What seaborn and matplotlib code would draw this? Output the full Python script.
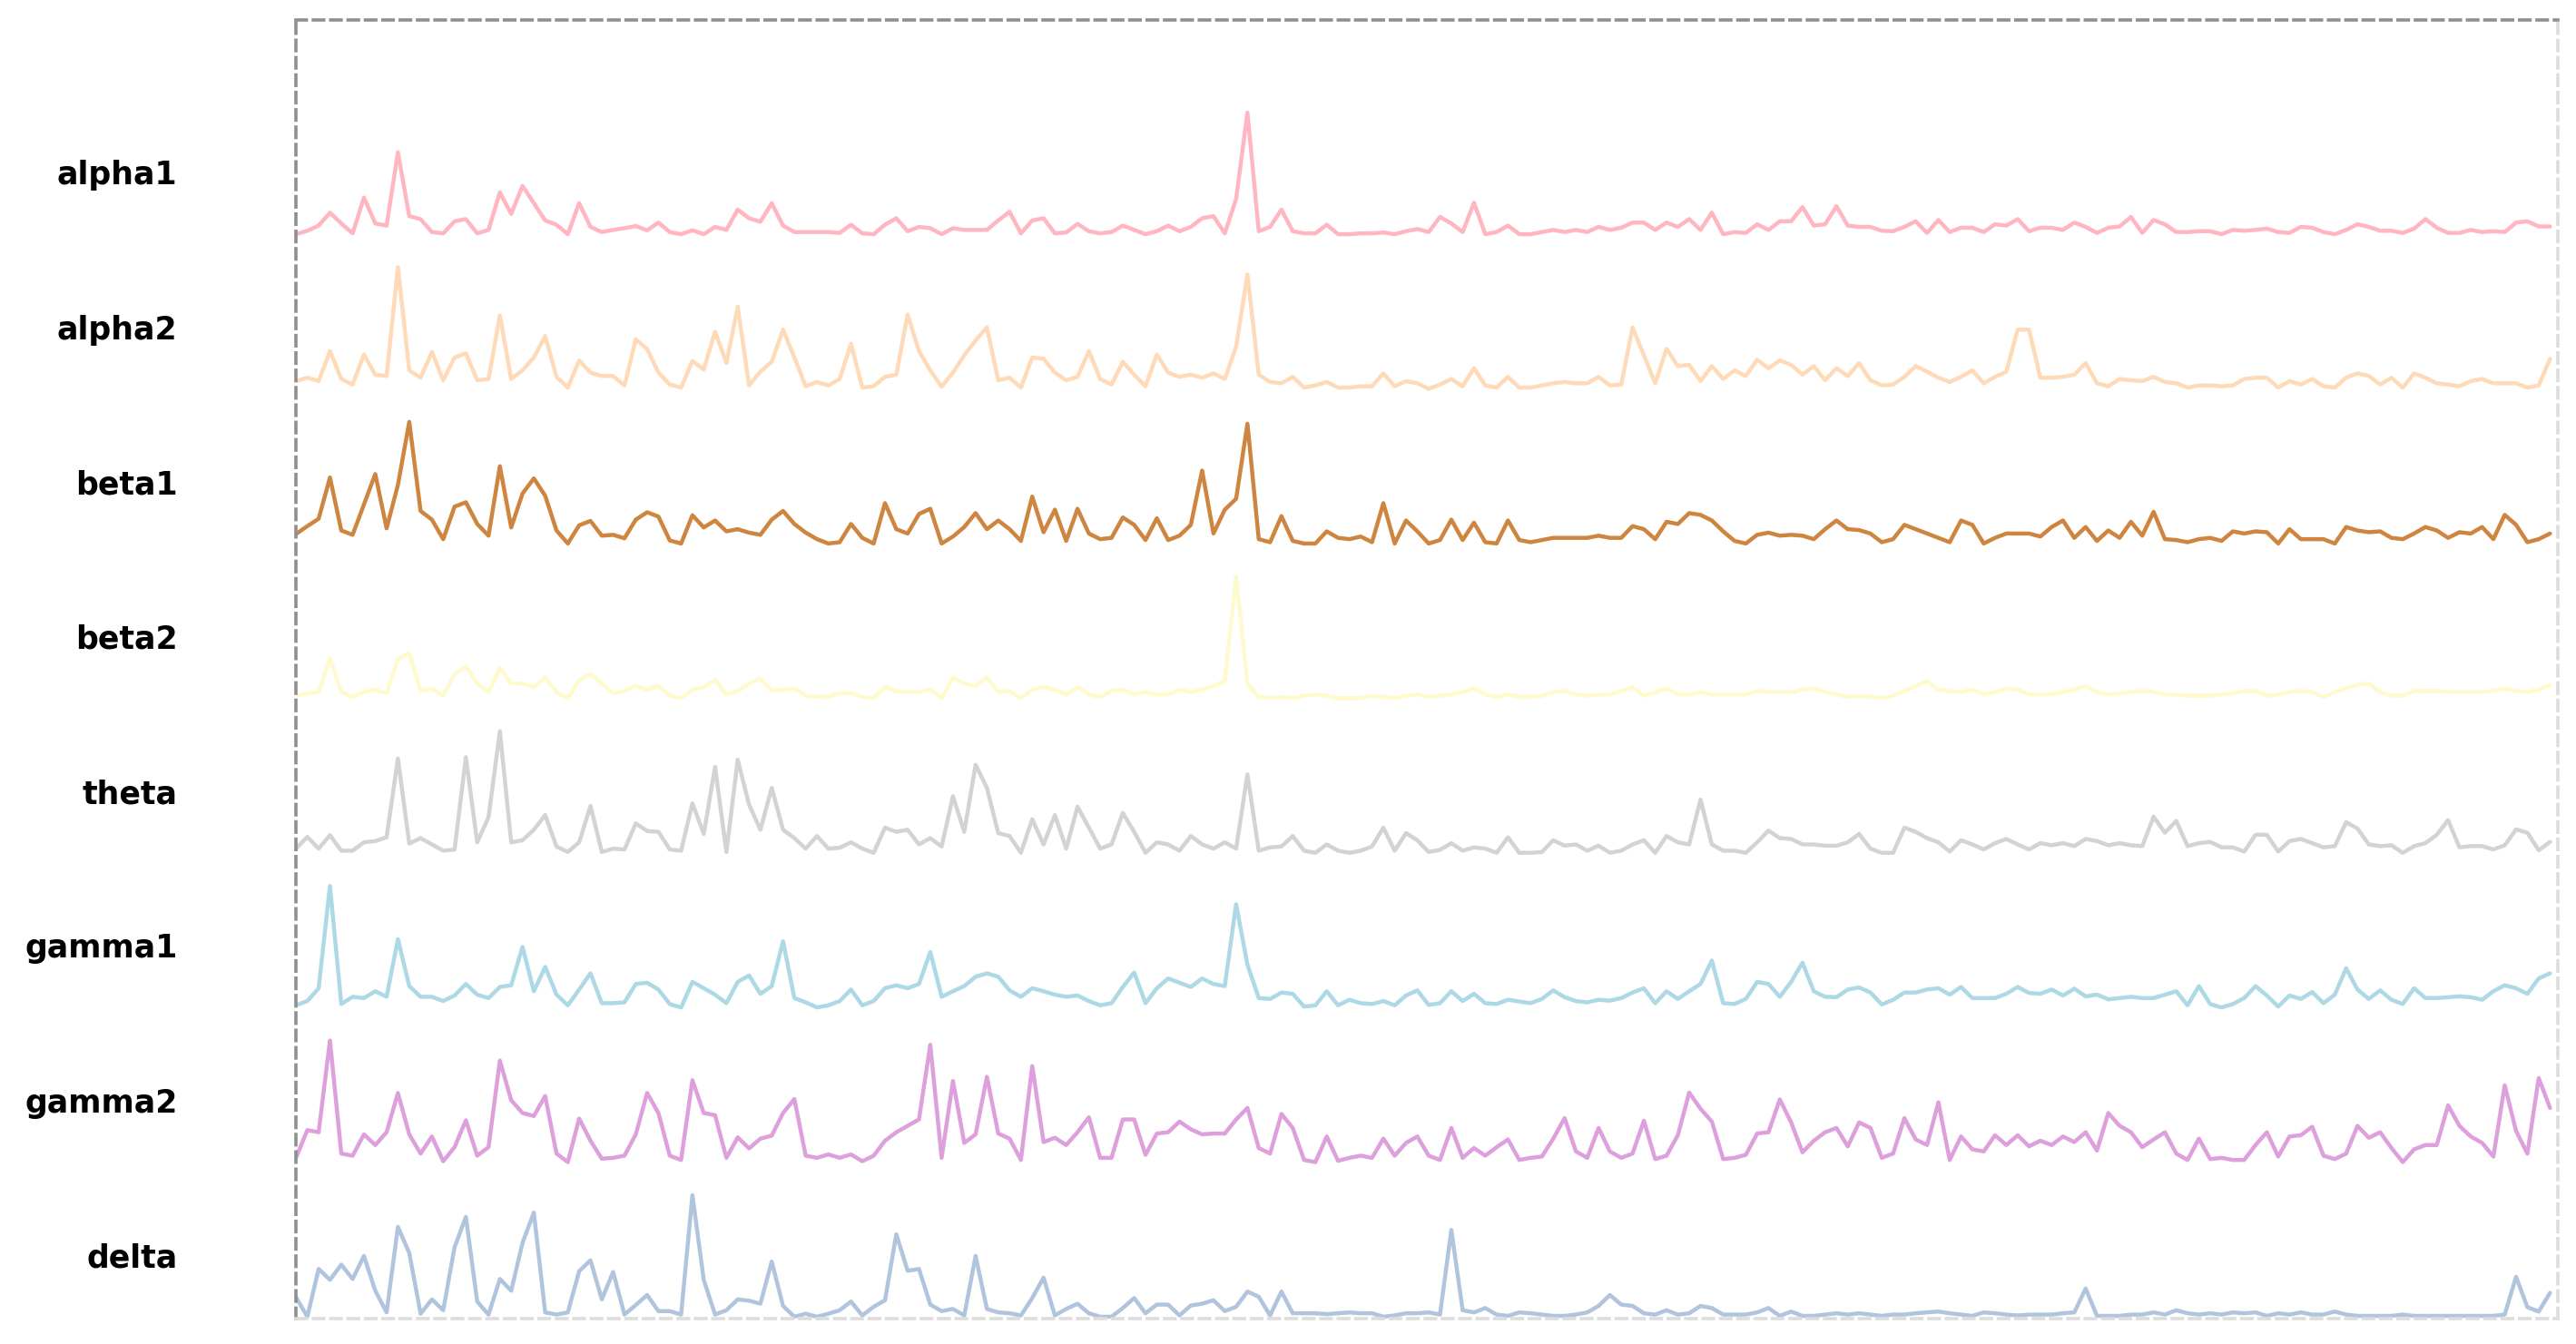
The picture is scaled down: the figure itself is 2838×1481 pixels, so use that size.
import numpy as np
import pandas as pd
import matplotlib.pyplot as plt
import seaborn as sns

# EEG band power traces, one row per band (top to bottom)
bands = ["alpha1", "alpha2", "beta1", "beta2", "theta", "gamma1", "gamma2", "delta"]
band_colors = ["#FFB6C1", "#FFDAB9", "#CD853F", "#FFFACD",
               "#D3D3D3", "#ADD8E6", "#DDA0DD", "#B0C4DE"]

# values (relative units, 200 samples per band)
alpha1 = [0, 8, 20, 50, 25, 2, 85, 25, 20, 190, 42, 35, 5, 2, 30, 35, 2, 10, 97, 47,
          112, 72, 32, 22, 0, 72, 17, 5, 10, 14, 19, 9, 27, 5, 0, 9, 0, 17, 10, 57,
          37, 29, 72, 20, 5, 5, 5, 5, 3, 22,
          2, 0, 22, 37, 7, 17, 14, 0, 14, 10, 10, 10, 32, 52, 2, 32, 37, 2, 4, 24,
          7, 2, 5, 20, 10, 0, 7, 20, 7, 17, 37, 42, 2, 82, 282, 7, 17, 57, 7, 2,
          2, 22, 0, 0, 2, 2, 4, 0, 7, 12,
          5, 40, 25, 5, 73, 0, 5, 20, 0, 0, 5, 10, 5, 10, 5, 17, 10, 15, 27, 27,
          10, 27, 17, 35, 10, 50, 0, 5, 3, 23, 10, 30, 30, 63, 20, 23, 65, 20, 17, 17,
          8, 7, 17, 30, 3, 33, 5, 15, 15,
          5, 23, 20, 35, 7, 15, 15, 10, 27, 17, 3, 15, 18, 40, 3, 33, 23, 5, 5, 7,
          7, 0, 10, 8, 10, 13, 5, 3, 17, 15, 5, 0, 10, 23, 17, 8, 8, 3, 13, 35,
          15, 3, 3, 10, 5, 7, 5, 27, 30, 18, 18]
alpha2 = [18, 26, 18, 88, 23, 10, 80, 33, 30, 283, 43, 26, 86, 20, 73, 83, 20, 23, 171, 23,
          43, 73, 123, 28, 3, 66, 38, 30, 30, 8, 115, 93, 38, 10, 3, 65, 45, 133, 60, 191,
          8, 40, 63, 138, 73, 6, 16, 8, 23, 105,
          3, 6, 28, 33, 173, 88, 43, 5, 38, 78, 113, 143, 20, 26, 3, 73, 70, 38, 20, 28,
          88, 23, 10, 63, 33, 6, 80, 38, 28, 33, 26, 36, 23, 98, 266, 33, 16, 13, 28, 3,
          8, 16, 3, 3, 6, 6, 36, 6, 18, 13,
          0, 10, 23, 6, 48, 8, 3, 28, 3, 3, 8, 13, 16, 13, 13, 28, 8, 10, 143, 78,
          13, 93, 53, 56, 18, 53, 23, 43, 30, 68, 48, 66, 56, 33, 53, 20, 48, 30, 60, 20,
          8, 10, 28, 53, 40, 26, 16, 28, 43,
          13, 28, 40, 138, 138, 26, 26, 28, 33, 60, 13, 6, 23, 20, 18, 28, 16, 13, 3, 8,
          8, 6, 8, 23, 26, 26, 3, 18, 10, 23, 6, 3, 26, 36, 30, 10, 26, 3, 36, 26,
          13, 10, 6, 18, 23, 13, 13, 13, 3, 8, 70]
beta1 = [24, 42, 59, 154, 32, 22, 92, 162, 37, 137, 282, 77, 57, 12, 87, 97, 47, 20, 180, 39,
         117, 152, 112, 32, 2, 44, 54, 20, 22, 14, 57, 74, 64, 9, 2, 67, 39, 55, 30, 35,
         27, 22, 57, 77, 47, 27, 12, 2, 5, 47,
         15, 2, 95, 35, 25, 70, 82, 2, 18, 40, 72, 35, 55, 35, 8, 110, 28, 80, 8, 82,
         25, 12, 15, 62, 45, 10, 60, 10, 20, 45, 170, 25, 80, 105, 278, 12, 5, 65, 8, 2,
         2, 30, 15, 12, 18, 5, 95, 2, 55, 30,
         2, 10, 57, 10, 50, 5, 2, 55, 10, 5, 10, 15, 15, 15, 15, 20, 15, 15, 42, 35,
         12, 52, 47, 72, 68, 55, 30, 8, 2, 22, 27, 20, 22, 20, 12, 35, 55, 35, 33, 25,
         5, 12, 45, 35, 25, 15, 5, 55, 45,
         2, 15, 25, 25, 25, 18, 40, 55, 15, 40, 8, 32, 15, 52, 20, 75, 12, 10, 5, 12,
         15, 8, 30, 25, 30, 28, 2, 35, 12, 12, 12, 2, 40, 32, 28, 30, 15, 12, 25, 40,
         32, 15, 28, 25, 40, 12, 68, 45, 5, 12, 25]
beta2 = [2, 4, 5, 33, 5, 1, 5, 7, 4, 32, 37, 6, 8, 2, 20, 26, 12, 5, 25, 12,
         12, 9, 17, 5, 0, 15, 20, 12, 4, 6, 10, 7, 10, 2, 0, 7, 9, 15, 3, 6,
         12, 16, 6, 7, 8, 2, 1, 1, 4, 4, 1, 0, 9, 6, 5, 5, 7, 0, 17, 12,
         10, 17, 5, 6, 0, 7, 9, 7,
         3, 9, 3, 1, 6, 7, 3, 5, 3, 3, 7, 5, 7, 10, 14, 100, 12,
         1, 0, 1, 0, 2, 3, 2, 0, 0, 0, 2, 1, 0, 2, 3,
         1, 2, 3, 5, 8, 3, 1, 3, 1, 1, 2, 5, 6, 3, 2, 3, 3, 6, 9, 2,
         5, 8, 3, 3, 5, 3, 3, 3, 3, 6, 5, 5, 5, 7, 8, 5, 3, 1, 2, 1,
         0, 2, 6, 10, 14, 7, 6, 5, 7,
         3, 5, 8, 7, 3, 3, 3, 5, 7, 10, 5, 3, 4, 5, 6, 5, 3, 3, 2, 2,
         2, 3, 4, 6, 6, 2, 3, 5, 6, 5, 1, 5, 8, 11, 12, 5, 2, 2, 6, 6,
         6, 5, 5, 5, 5, 6, 8, 6, 5, 7, 11]
theta = [10, 38, 10, 42, 5, 5, 25, 28, 37, 225, 22, 35, 20, 5, 8, 228, 25, 85, 290, 25,
         30, 55, 90, 15, 2, 25, 112, 2, 10, 8, 70, 52, 50, 8, 5, 118, 45, 205, 2, 222,
         115, 55, 155, 55, 35, 10, 40, 10, 12, 25,
         10, 0, 60, 50, 55, 20, 35, 15, 135, 50, 210, 155, 47, 40, 0, 80, 20, 90, 10, 110,
         60, 10, 20, 95, 50, 0, 25, 20, 5, 40, 20, 10, 25, 10, 187, 5, 13, 15, 40, 5,
         0, 20, 5, 0, 5, 15, 60, 5, 47, 30,
         2, 7, 23, 5, 13, 10, 0, 37, 0, 0, 2, 30, 17, 20, 5, 17, 0, 5, 20, 30,
         0, 40, 25, 20, 127, 20, 5, 5, 0, 25, 53, 35, 33, 20, 20, 17, 17, 25, 45, 10,
         0, 0, 60, 50, 35, 25, 3, 30, 20,
         8, 23, 33, 20, 8, 23, 18, 23, 16, 33, 28, 18, 23, 18, 16, 86, 48, 76, 16, 23,
         26, 13, 13, 3, 43, 43, 3, 28, 33, 23, 13, 16, 73, 58, 20, 16, 18, 0, 16, 23,
         43, 78, 13, 16, 16, 8, 18, 56, 48, 6, 26]
gamma1 = [5, 15, 45, 285, 8, 25, 22, 38, 25, 160, 50, 25, 25, 15, 28, 55, 30, 22, 48, 52,
          142, 38, 95, 30, 5, 42, 80, 10, 10, 12, 55, 58, 42, 8, 0, 60, 45, 30, 10, 60,
          75, 32, 50, 155, 22, 12, 0, 5, 15, 42,
          5, 15, 45, 52, 45, 55, 130, 25, 38, 50, 72, 80, 72, 40, 25, 45, 38, 30, 25, 28,
          15, 5, 10, 48, 82, 10, 45, 68, 58, 48, 68, 55, 50, 242, 100, 22, 20, 35, 32, 2,
          5, 38, 5, 18, 10, 8, 15, 5, 28, 40,
          6, 10, 38, 15, 32, 10, 8, 18, 14, 10, 20, 40, 24, 15, 12, 18, 16, 22, 35, 45,
          10, 38, 20, 38, 55, 110, 10, 8, 20, 60, 55, 25, 60, 105, 38, 25, 24, 42, 47, 35,
          7, 18, 35, 35, 42, 45, 30, 48, 22,
          22, 22, 32, 48, 34, 32, 42, 28, 44, 26, 30, 19, 22, 25, 22, 22, 30, 38, 5, 50,
          8, 0, 8, 22, 50, 28, 2, 28, 20, 36, 10, 30, 92, 42, 20, 40, 18, 8, 45, 22,
          22, 24, 26, 24, 18, 38, 52, 45, 32, 68, 80]
gamma2 = [10, 75, 70, 285, 20, 15, 65, 40, 70, 162, 65, 20, 60, 2, 35, 98, 15, 35, 238, 145,
          115, 108, 155, 20, 0, 102, 50, 8, 10, 15, 65, 162, 115, 15, 5, 192, 115, 110, 10, 58,
          32, 55, 62, 115, 148, 15, 10, 18, 10, 18,
          2, 15, 50, 70, 85, 100, 275, 10, 190, 45, 65, 200, 67, 55, 5, 225, 47, 57, 40, 70,
          105, 10, 10, 100, 100, 17, 67, 70, 95, 77, 65, 67, 67, 100, 127, 33, 20, 113, 80, 5,
          0, 60, 3, 10, 15, 10, 55, 15, 45, 60,
          15, 5, 80, 10, 33, 15, 35, 53, 5, 10, 13, 55, 103, 25, 10, 80, 25, 10, 20, 97,
          7, 15, 63, 163, 125, 95, 7, 10, 17, 67, 70, 147, 93, 23, 50, 70, 80, 37, 93, 80,
          10, 20, 103, 53, 40, 140, 5, 60, 30,
          25, 63, 40, 63, 37, 50, 40, 60, 47, 70, 27, 115, 85, 70, 35, 53, 70, 20, 5, 55,
          7, 10, 5, 5, 40, 70, 13, 60, 63, 83, 15, 7, 20, 85, 57, 70, 33, 0, 30, 40,
          40, 133, 85, 60, 45, 13, 180, 73, 20, 197, 127]
delta = [45, 0, 110, 85, 120, 87, 140, 60, 10, 207, 147, 7, 40, 15, 160, 230, 35, 5, 87, 60,
         170, 240, 10, 5, 10, 105, 130, 40, 103, 5, 27, 50, 13, 13, 5, 280, 85, 5, 15, 40,
         37, 30, 127, 25, 0, 7, 0, 7, 15, 35,
         3, 23, 38, 190, 106, 110, 28, 13, 18, 3, 140, 18, 10, 8, 3, 43, 90, 3, 18, 30,
         8, 0, 0, 20, 43, 8, 28, 28, 3, 26, 30, 38, 13, 23, 58, 46, 3, 58, 8, 8,
         8, 6, 8, 10, 8, 8, 0, 3, 8, 8,
         10, 5, 200, 15, 10, 20, 5, 2, 10, 8, 5, 2, 2, 5, 10, 25, 50, 28, 25, 8,
         5, 15, 5, 8, 25, 20, 5, 5, 5, 10, 20, 2, 12, 2, 2, 5, 8, 5, 8, 5,
         2, 5, 5, 8, 10, 12, 8, 5, 2,
         10, 8, 5, 3, 5, 5, 5, 8, 10, 65, 2, 2, 2, 5, 5, 10, 5, 15, 8, 5,
         8, 5, 10, 8, 10, 2, 8, 5, 10, 5, 5, 12, 5, 2, 2, 2, 2, 5, 2, 2,
         2, 2, 2, 2, 2, 2, 5, 92, 22, 12, 55]

series = [alpha1, alpha2, beta1, beta2, theta, gamma1, gamma2, delta]

# scale every band to 0..1 and stack them, first band on top
n_bands = len(bands)
parts = []
for k, (name, vals) in enumerate(zip(bands, series)):
    v = np.array(vals, dtype=float)
    v = (v - v.min()) / (v.max() - v.min())
    offset = n_bands - 1 - k
    parts.append(pd.DataFrame({"t": np.arange(len(v)), "y": v * 0.786 + offset, "band": name}))
df = pd.concat(parts, ignore_index=True)

sns.set_theme(style="white")
plt.rcParams["font.family"] = ["DejaVu Sans"]

fig, ax = plt.subplots(figsize=(14.19, 7.405), dpi=200)
fig.subplots_adjust(left=0.1149, right=0.9930, top=0.9851, bottom=0.0189)

sns.lineplot(data=df, x="t", y="y", hue="band", palette=dict(zip(bands, band_colors)),
             estimator=None, legend=False, linewidth=1.6, ax=ax)

ax.set_xlim(0, 199.7)
ax.set_ylim(-0.012, 8.385)
ax.set_yticks([n_bands - 1 - k + 0.40 for k in range(n_bands)])
ax.set_yticklabels(bands, fontweight="bold", fontsize=12.5, color="black")
ax.tick_params(axis="y", length=0, pad=47)
ax.set_xticks([])
ax.set_xlabel("")
ax.set_ylabel("")

# dashed frame: darker on top/left, faint on right/bottom
for side in ["top", "left"]:
    ax.spines[side].set_linestyle((0, (3.2, 2.1)))
    ax.spines[side].set_color("#8f8f8f")
    ax.spines[side].set_linewidth(1.3)
for side in ["right", "bottom"]:
    ax.spines[side].set_linestyle((0, (3.2, 2.1)))
    ax.spines[side].set_color("#dddddd")
    ax.spines[side].set_linewidth(1.3)

fig.savefig("out.png", dpi=200)
plt.close()
